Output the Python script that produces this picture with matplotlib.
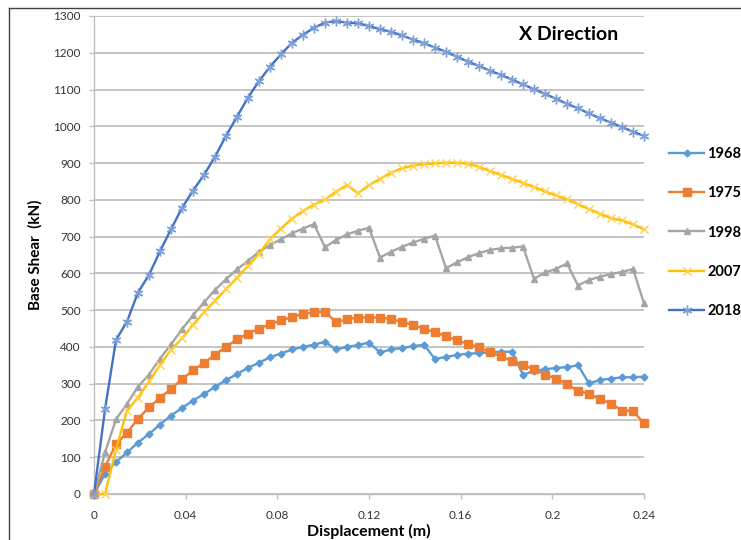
import matplotlib
matplotlib.use("Agg")
import matplotlib.pyplot as plt
from matplotlib.lines import Line2D

# displacement steps (m)
disp = [0.0000, 0.0048, 0.0096, 0.0144, 0.0192, 0.0240, 0.0288, 0.0336, 0.0384, 0.0432,
        0.0480, 0.0528, 0.0576, 0.0624, 0.0672, 0.0720, 0.0768, 0.0816, 0.0864, 0.0912,
        0.0960, 0.1008, 0.1056, 0.1104, 0.1152, 0.1200, 0.1248, 0.1296, 0.1344, 0.1392,
        0.1440, 0.1488, 0.1536, 0.1584, 0.1632, 0.1680, 0.1728, 0.1776, 0.1824, 0.1872,
        0.1920, 0.1968, 0.2016, 0.2064, 0.2112, 0.2160, 0.2208, 0.2256, 0.2304, 0.2352,
        0.2400]

# base shear (kN) for each code year
v1968 = [0, 55, 87, 113, 140, 163, 189, 213, 234, 254, 272, 291, 310, 326, 343, 357, 372,
         382, 393, 400, 406, 414, 393, 400, 405, 412, 385, 393, 397, 402, 406, 367, 373,
         378, 382, 383, 385, 387, 387, 324, 335, 339, 343, 345, 350, 301, 310, 314, 317,
         318, 319]
v1975 = [0, 74, 136, 167, 204, 236, 261, 286, 312, 336, 356, 379, 400, 421, 436, 450, 462,
         472, 481, 490, 494, 495, 468, 475, 480, 480, 480, 476, 468, 460, 449, 440, 429,
         418, 408, 399, 385, 374, 362, 351, 339, 325, 314, 299, 280, 273, 258, 246, 227,
         226, 192]
v1998 = [0, 113, 203, 245, 292, 325, 368, 407, 448, 486, 521, 555, 584, 611, 634, 659, 677,
         693, 709, 722, 734, 671, 691, 706, 716, 724, 643, 659, 672, 684, 694, 703, 614,
         630, 644, 655, 664, 668, 670, 673, 585, 603, 612, 627, 567, 582, 591, 598, 604,
         612, 519]
v2007 = [0, 0, 121, 227, 262, 306, 351, 392, 423, 460, 494, 526, 557, 588, 620, 653, 693,
         722, 749, 770, 787, 801, 822, 840, 818, 840, 857, 874, 886, 893, 897, 899, 901,
         901, 898, 890, 878, 868, 857, 846, 835, 823, 812, 801, 788, 775, 762, 750, 744,
         733, 720]
v2018 = [0, 230, 419, 469, 548, 596, 660, 720, 778, 825, 868, 917, 974, 1026, 1078, 1123,
         1162, 1196, 1227, 1249, 1268, 1282, 1286, 1282, 1280, 1273, 1264, 1257, 1247, 1236,
         1226, 1214, 1203, 1189, 1176, 1164, 1151, 1140, 1127, 1114, 1101, 1088, 1075, 1061,
         1049, 1035, 1022, 1010, 998, 985, 974]

labels = ["1968", "1975", "1998", "2007", "2018"]
xticks = [0, 0.04, 0.08, 0.12, 0.16, 0.2, 0.24]
xticklabels = ["0", "0.04", "0.08", "0.12", "0.16", "0.2", "0.24"]

plt.rcParams['font.family'] = ['Lato', 'DejaVu Sans']

fig = plt.figure(figsize=(7.41, 5.40), dpi=100)
ax = fig.add_axes([94/741, 46/540, 550/741, 478/540])

# excel like styles: line colour, marker, marker size, marker colour
styles = [
    ("#5B9BD5", "D", 3.5, "#5B9BD5"),
    ("#ED7D31", "s", 6, "#ED7D31"),
    ("#A5A5A5", "^", 5, "#A5A5A5"),
    ("#FFC000", "x", 6, "#FFD24D"),
    ("#4472C4", (6, 2, 0), 7, "#7F9FD8"),
]
series = [v1968, v1975, v1998, v2007, v2018]
for vals, lab, st in zip(series, labels, styles):
    col, mk, ms, mcol = st
    ax.plot(disp, vals, color=col, lw=1.7, marker=mk, ms=ms,
            markerfacecolor=mcol, markeredgecolor=mcol, mew=1.0,
            label=lab, clip_on=False, zorder=3)

ax.set_xlim(0, 0.24)
ax.set_ylim(0, 1300)
ax.set_yticks(range(0, 1301, 100))
ax.set_xticks(xticks)
ax.set_xticklabels(xticklabels)

ax.grid(axis='y', color='#BFBFBF', lw=1.3)
ax.set_axisbelow(True)
for s in ['top', 'right']:
    ax.spines[s].set_visible(False)
for s in ['left', 'bottom']:
    ax.spines[s].set_color('#BFBFBF')
    ax.spines[s].set_linewidth(1.0)
ax.tick_params(axis='both', colors='#BFBFBF', labelcolor='#333333', labelsize=8.5,
               length=3.5, width=1.0)
ax.tick_params(axis='y', pad=6)
ax.tick_params(axis='x', pad=8)

ax.set_xlabel("Displacement (m)", fontsize=11.5, fontweight='bold')
ax.xaxis.set_label_coords(0.5, -0.062)
ax.set_ylabel("Base Shear  (kN)", fontsize=11, fontweight='bold')
ax.yaxis.set_label_coords(-0.093, 0.5)

ax.text(0.2073, 1251, "X Direction", fontsize=14, fontweight='bold',
        ha='center', va='center')

leg = ax.legend(loc='center left', bbox_to_anchor=(1.035, 0.547), frameon=False,
                borderaxespad=0, labelspacing=1.72, handlelength=2.4,
                handletextpad=0.2, prop={'weight': 'bold', 'size': 10.5})

# outer frame of the chart area (top and left edges are visible)
fig.add_artist(Line2D([9/741, 9/741], [0, 1 - 8/540], color='#404040', lw=1.0))
fig.add_artist(Line2D([9/741, 1], [1 - 8/540, 1 - 8/540], color='#404040', lw=1.0))

fig.savefig("out.png", dpi=100)
